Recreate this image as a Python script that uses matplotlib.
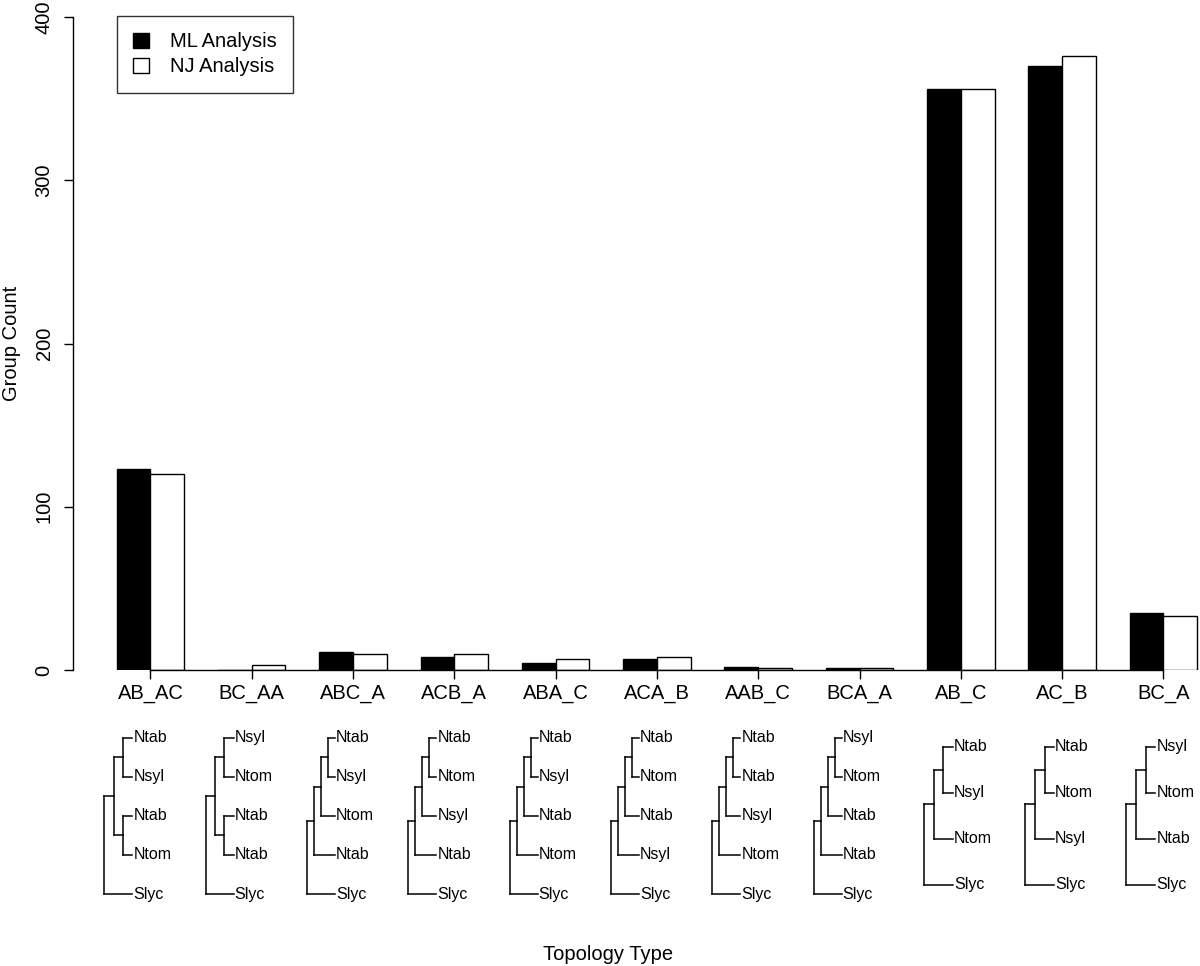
import numpy as np
import matplotlib
matplotlib.use("Agg")
import matplotlib.pyplot as plt
from matplotlib.patches import Patch

plt.rcParams['font.family'] = ['Liberation Sans', 'DejaVu Sans']

# topology types and group counts
categories = ["AB_AC", "BC_AA", "ABC_A", "ACB_A", "ABA_C", "ACA_B",
              "AAB_C", "BCA_A", "AB_C", "AC_B", "BC_A"]
ml_counts = [123, 0, 11, 8, 4, 7, 2, 1, 356, 370, 35]
nj_counts = [120, 3, 10, 10, 7, 8, 1, 1, 356, 376, 33]

# tree drawn under each bar group (nested tuples, Slyc as outgroup)
trees = [
    ((("Ntab", "Nsyl"), ("Ntab", "Ntom")), "Slyc"),
    ((("Nsyl", "Ntom"), ("Ntab", "Ntab")), "Slyc"),
    (((("Ntab", "Nsyl"), "Ntom"), "Ntab"), "Slyc"),
    (((("Ntab", "Ntom"), "Nsyl"), "Ntab"), "Slyc"),
    (((("Ntab", "Nsyl"), "Ntab"), "Ntom"), "Slyc"),
    (((("Ntab", "Ntom"), "Ntab"), "Nsyl"), "Slyc"),
    (((("Ntab", "Ntab"), "Nsyl"), "Ntom"), "Slyc"),
    (((("Nsyl", "Ntom"), "Ntab"), "Ntab"), "Slyc"),
    ((("Ntab", "Nsyl"), "Ntom"), "Slyc"),
    ((("Ntab", "Ntom"), "Nsyl"), "Slyc"),
    ((("Nsyl", "Ntom"), "Ntab"), "Slyc"),
]

W, H = 1200, 966
fig = plt.figure(figsize=(W / 100, H / 100), dpi=100)

# main axes in pixel terms (R barplot region, cut off on the right)
ax_left, ax_right = 73.3, 1240.6
y0_px, y400_px = 670, 17
ax = fig.add_axes([ax_left / W, (H - y0_px) / H,
                   (ax_right - ax_left) / W, (y0_px - y400_px) / H])

n = len(categories)
g = np.arange(n)
ml_x = 1.5 + 3 * g
nj_x = 2.5 + 3 * g
centers = 2 + 3 * g
lw = 1.0
ax.bar(ml_x, ml_counts, width=1.0, color="black", edgecolor="black", linewidth=lw, label="ML Analysis")
ax.bar(nj_x, nj_counts, width=1.0, color="white", edgecolor="black", linewidth=lw, label="NJ Analysis")

ax.set_xlim(-0.284, 34.284)
ax.set_ylim(0, 400)

for s in ["top", "right"]:
    ax.spines[s].set_visible(False)
ax.spines["left"].set_bounds(0, 400)
ax.spines["bottom"].set_bounds(centers[0], centers[-1])
ax.spines["left"].set_linewidth(lw)
ax.spines["bottom"].set_linewidth(lw)

ax.set_yticks([0, 100, 200, 300, 400])
ax.set_xticks(centers)
ax.set_xticklabels(categories)
ax.tick_params(axis="both", length=6.2, width=lw, labelsize=14.5, color="black")
ax.tick_params(axis="x", pad=4)
ax.tick_params(axis="y", pad=8)
for lab in ax.get_yticklabels():
    lab.set_rotation(90)
    lab.set_va("center")
    lab.set_ha("right")

fig.text(12 / W, 1 - 343.5 / H, "Group Count", rotation=90, ha="center", va="center", fontsize=14.5)
fig.text(608 / W, 1 - 954 / H, "Topology Type", ha="center", va="center", fontsize=14.5)

leg = ax.legend(
    handles=[Patch(facecolor="black", edgecolor="black", linewidth=lw),
             Patch(facecolor="white", edgecolor="black", linewidth=lw)],
    labels=["ML Analysis", "NJ Analysis"],
    loc="upper left", bbox_to_anchor=(117 / W, 1 - 16.3 / H), bbox_transform=fig.transFigure,
    borderaxespad=0, fontsize=14.5, frameon=True, fancybox=False, edgecolor="black",
    handlelength=0.8, handleheight=0.75, handletextpad=1.05, borderpad=0.8, labelspacing=0.3)
leg.get_frame().set_linewidth(lw)

# overlay in pixel coords for the trees
ov = fig.add_axes([0, 0, 1, 1])
ov.set_xlim(0, W)
ov.set_ylim(H, 0)
ov.axis("off")


def count_tips(t):
    return 1 if isinstance(t, str) else sum(count_tips(c) for c in t)


def max_depth(t, d=0):
    return d if isinstance(t, str) else max(max_depth(c, d + 1) for c in t)


def draw_tree(tree, root_x, tip_x, y_top, y_bot):
    ntip = count_tips(tree)
    md = max_depth(tree)
    ys = np.linspace(y_top, y_bot, ntip)
    step = (tip_x - root_x) / md
    counter = [0]

    def rec(t, d):
        if isinstance(t, str):
            y = ys[counter[0]]
            counter[0] += 1
            ov.text(tip_x + 1, y, t, ha="left", va="center", fontsize=11.5)
            return tip_x, y
        x = root_x + d * step
        kids = [rec(c, d + 1) for c in t]
        kys = [k[1] for k in kids]
        ov.plot([x, x], [min(kys), max(kys)], color="black", lw=1.1)
        for kx, ky in kids:
            ov.plot([x, kx], [ky, ky], color="black", lw=1.1)
        return x, float(np.mean(kys))

    rec(tree, 0)


for i, tree in enumerate(trees):
    cx_disp = ax.transData.transform((centers[i], 0))[0]
    if count_tips(tree) == 5:
        draw_tree(tree, cx_disp - 46, cx_disp - 18, 737.7, 894)
    else:
        draw_tree(tree, cx_disp - 37, cx_disp - 8, 746.7, 885)

fig.savefig("out.png", dpi=100)
